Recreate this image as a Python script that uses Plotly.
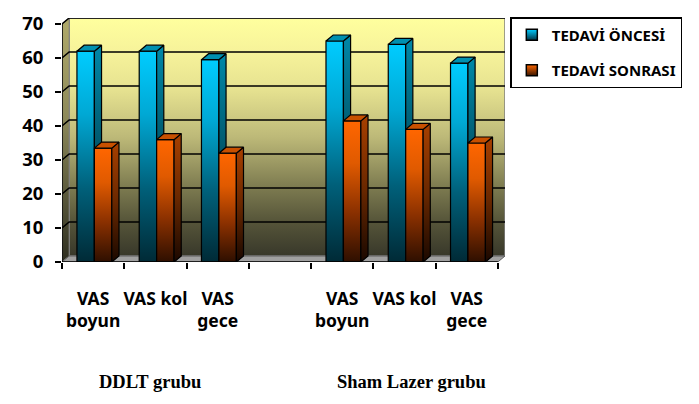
import plotly.graph_objects as go

categories = ["VAS<br>boyun", "VAS kol", "VAS<br>gece", "", "VAS<br>boyun", "VAS kol", "VAS<br>gece"]
series_names = ["TEDAVİ ÖNCESİ", "TEDAVİ SONRASI"]
oncesi = [62, 62, 59.5, None, 65, 64, 58.5]
sonrasi = [33.5, 36, 32, None, 41.5, 39, 35]
group_labels = ["DDLT grubu", "Sham Lazer grubu"]
group_pos = [1.41, 5.61]
y_ticks = [0, 10, 20, 30, 40, 50, 60, 70]

n = len(categories)
DX = 0.115   # depth offset in x units
DY = 1.76    # depth offset in y units
W = 0.28     # bar width
YMAX = 70

front_cols = [
    [[0, "#002a36"], [0.35, "#00607a"], [0.7, "#00a8d4"], [1, "#00ccff"]],
    [[0, "#2e0f00"], [0.35, "#8a3000"], [0.7, "#e05a00"], [1, "#ff6600"]],
]
side_cols = [
    [[0, "#00161e"], [0.5, "#005468"], [1, "#0088a8"]],
    [[0, "#1a0800"], [0.5, "#6a2800"], [1, "#a84000"]],
]
top_cols = ["#0090b0", "#c85000"]

fig = go.Figure()

def poly(xs, ys, fill=None, grad=None, line_color="black", lw=1.2, start=None, stop=None):
    kw = dict(x=xs + [xs[0]], y=ys + [ys[0]], mode="lines", fill="toself",
              line=dict(color=line_color, width=lw), hoverinfo="skip", showlegend=False)
    if grad is not None:
        fg = dict(type="vertical", colorscale=grad)
        if start is not None:
            fg["start"] = start
            fg["stop"] = stop
        kw["fillgradient"] = fg
    else:
        kw["fillcolor"] = fill
    fig.add_trace(go.Scatter(**kw))

# back wall
wall_grad = [[0, "#38382a"], [0.15, "#57563a"], [0.3, "#807e52"], [0.5, "#bdb978"],
             [0.7, "#e6e290"], [0.85, "#f6f29a"], [1, "#ffff9e"]]
poly([DX, n + DX, n + DX, DX], [DY, DY, YMAX + DY, YMAX + DY], grad=wall_grad,
     line_color="#808080", lw=1.5, start=DY, stop=YMAX + DY)
# left wall
side_wall_grad = [[0, "#2e2e20"], [0.3, "#5e5c3e"], [0.6, "#8e8a5a"], [1, "#b0aa6a"]]
poly([0, DX, DX, 0], [0, DY, YMAX + DY, YMAX], grad=side_wall_grad,
     line_color="#808080", lw=1, start=0, stop=YMAX + DY)
# floor
poly([0, n, n + DX, DX], [0, 0, DY, DY], fill="#a0a0a0", line_color="#606060", lw=1)

# gridlines on back wall + left wall diagonals
for v in y_ticks[1:]:
    fig.add_trace(go.Scatter(x=[0, DX, n + DX], y=[v, v + DY, v + DY], mode="lines",
                             line=dict(color="black", width=1.5), hoverinfo="skip", showlegend=False))

# bars
for i in range(n):
    for s, vals in enumerate([oncesi, sonrasi]):
        v = vals[i]
        if v is None:
            continue
        x0 = i + 0.5 - W + s * W + 0.02
        x1 = x0 + W
        poly([x0, x1, x1, x0], [0, 0, v, v], grad=front_cols[s], start=0, stop=v)
        poly([x1, x1 + DX, x1 + DX, x1], [0, DY, v + DY, v], grad=side_cols[s], start=0, stop=v + DY)
        poly([x0, x1, x1 + DX, x0 + DX], [v, v, v + DY, v + DY], fill=top_cols[s])

# legend entries
leg_cols = [("#00ccff", "#003344"), ("#ff6600", "#3a1500")]
for s, name in enumerate(series_names):
    fig.add_trace(go.Scatter(x=[None], y=[None], mode="markers", name=name, legendgroup=name,
                             marker=dict(symbol="square", size=11, color=leg_cols[s][0],
                                         gradient=dict(type="vertical", color=leg_cols[s][1]),
                                         line=dict(color="black", width=1.5))))

# front axis lines
fig.add_shape(type="line", xref="x", yref="y", x0=0, x1=0, y0=0, y1=YMAX,
              line=dict(color="black", width=1.5))
fig.add_shape(type="line", xref="x", yref="y", x0=0, x1=n, y0=0, y1=0,
              line=dict(color="black", width=1.5))

for lbl, px in zip(group_labels, group_pos):
    fig.add_annotation(x=px, y=-0.492, xref="x", yref="paper", text="<b>%s</b>" % lbl,
                       showarrow=False, yanchor="middle", xanchor="center",
                       font=dict(family="Liberation Serif", size=18.5, color="black"))

# page body has an 8px default margin, so figure is sized/offset to compensate
fig.update_layout(
    width=691, height=396,
    margin=dict(l=54, r=193.5, t=10, b=142, autoexpand=False),
    paper_bgcolor="white", plot_bgcolor="white",
    font=dict(family="Noto Sans", color="black"),
    xaxis=dict(range=[0, n + DX], tickvals=[i + 0.5 for i in range(n)],
               ticktext=["<b>%s</b>" % c for c in categories], ticks="", showgrid=False,
               zeroline=False, showline=False, tickfont=dict(size=17.5, color="black"),
               ticklabelstandoff=24,
               minor=dict(tickvals=list(range(n + 1)), ticks="outside", ticklen=6,
                          tickcolor="black", tickwidth=1.5, showgrid=False)),
    yaxis=dict(range=[0, YMAX + DY], tickvals=y_ticks, ticktext=["<b>%d</b>" % t for t in y_ticks],
               ticks="outside", ticklen=6, tickcolor="black", tickwidth=1.5, showgrid=False,
               zeroline=False, showline=False, tickfont=dict(size=18.5, color="black"),
               ticklabelstandoff=8),
    legend=dict(x=1.012, y=1.004, xanchor="left", yanchor="top", bordercolor="black",
                borderwidth=1.5, bgcolor="white", tracegroupgap=13,
                font=dict(family="Noto Sans", size=15, color="black", weight="bold")),
    showlegend=True,
)

fig.write_html("out.html")
